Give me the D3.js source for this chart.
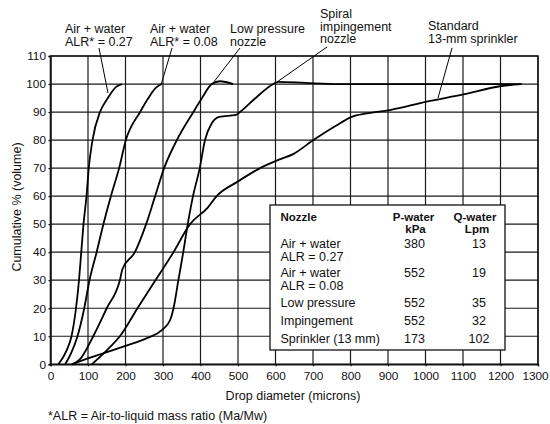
<!DOCTYPE html>
<html>
<head>
<meta charset="utf-8">
<script src="https://cdn.jsdelivr.net/npm/d3@7"></script>
<style>
  html, body { margin: 0; padding: 0; background: #fff; }
  svg { display: block; }
  text { font-family: "Liberation Sans", Arial, Helvetica, sans-serif; fill: #111; }
</style>
</head>
<body>
<svg id="chart" width="550" height="424"></svg>
<script>
// ---- data ----
const xTicks = [0,100,200,300,400,500,600,700,800,900,1000,1100,1200,1300];
const yTicks = [0,10,20,30,40,50,60,70,80,90,100,110];

const alr027Dia = [21,43,56,68,76,82,88,96,102,112,132,153,175,190];
const alr027Pct = [0,5,10,20,30,40,50,60,70,80,90,95,99,100];

const alr008Dia = [39,55,72,90,104,123,141,161,183,201,239,261,280,296];
const alr008Pct = [0,4,10,20,30,40,50,60,70,80,90,95,98.5,100];

const lowPDia = [60,80,114,150,185,192,225,255,279,303,337,381,404,430,452,487];
const lowPPct = [0,2,10,20,30,34,40,50,60,70,80,90,95,100,101,100];

const impDia = [56,87,194,260,297,319,328,341,354,366,380,398,412,430,450,495,505,541,594,607,680,770,1255];
const impPct = [0,1.5,6.3,9.5,12.2,15.8,20,30,40,50,60,70,80,86,88.3,89,90,94.3,100,100.8,100.4,100,100];

const sprDia = [110,150,185,232,280,328,372,420,443,497,559,609,647,701,760,803,843,905,1003,1101,1203,1257];
const sprPct = [0,5,10,20,30,40,50,56,60,65,70,73,75,80,85,88.3,89.5,90.7,93.7,96.3,99.3,100];

const seriesDia = [alr027Dia, alr008Dia, lowPDia, impDia, sprDia];
const seriesPct = [alr027Pct, alr008Pct, lowPPct, impPct, sprPct];

const calloutLines = [
  ["Air + water", "ALR* = 0.27"],
  ["Air + water", "ALR* = 0.08"],
  ["Low pressure", "nozzle"],
  ["Spiral", "impingement", "nozzle"],
  ["Standard", "13-mm sprinkler"]
];

const tableHeader = ["Nozzle", "P-water", "Q-water"];
const tableUnits = ["", "kPa", "Lpm"];
const tableNozzle = [["Air + water", "ALR = 0.27"], ["Air + water", "ALR = 0.08"], ["Low pressure"], ["Impingement"], ["Sprinkler (13 mm)"]];
const tableP = ["380", "552", "552", "552", "173"];
const tableQ = ["13", "19", "35", "32", "102"];

const xTitle = "Drop diameter (microns)";
const yTitle = "Cumulative % (volume)";
const footnote = "*ALR = Air-to-liquid mass ratio (Ma/Mw)";

// ---- drawing ----
const svg = d3.select("#chart");
const x = d3.scaleLinear().domain([0, 1300]).range([50.5, 538]);
const y = d3.scaleLinear().domain([0, 110]).range([364.3, 56]);

// gridlines
const grid = svg.append("g").attr("stroke", "#1a1a1a").attr("stroke-width", 1.2);
grid.selectAll("line.v").data(xTicks).join("line")
  .attr("x1", d => x(d)).attr("x2", d => x(d))
  .attr("y1", y(0)).attr("y2", y(110));
grid.selectAll("line.h").data(yTicks).join("line")
  .attr("x1", x(0)).attr("x2", x(1300))
  .attr("y1", d => y(d)).attr("y2", d => y(d));

// axes
const fs = 12.5;
const tfs = 11.8;
const xAxis = svg.append("g").attr("transform", `translate(0,${y(0)})`)
  .call(d3.axisBottom(x).tickValues(xTicks).tickFormat(d3.format("d")).tickSize(2).tickPadding(5.5));
const yAxis = svg.append("g").attr("transform", `translate(${x(0)},0)`)
  .call(d3.axisLeft(y).tickValues(yTicks).tickFormat(d3.format("d")).tickSize(2).tickPadding(2.5));
[xAxis, yAxis].forEach(a => {
  a.select(".domain").attr("stroke", "#111").attr("stroke-width", 1.4);
  a.selectAll(".tick line").attr("stroke", "#111").attr("stroke-width", 1.2);
  a.selectAll("text").attr("font-size", tfs).attr("font-family", null).style("fill", "#111");
});
xAxis.selectAll(".tick text").filter(d => d === 1300).attr("dx", -3);
svg.append("rect").attr("x", x(0)).attr("y", y(110))
  .attr("width", x(1300) - x(0)).attr("height", y(0) - y(110))
  .attr("fill", "none").attr("stroke", "#111").attr("stroke-width", 1.4);

// titles
svg.append("text").attr("x", 293).attr("y", 400).attr("text-anchor", "middle")
  .attr("font-size", fs).text(xTitle);
svg.append("text").attr("transform", "translate(21,207) rotate(-90)").attr("text-anchor", "middle")
  .attr("font-size", fs).text(yTitle);
svg.append("text").attr("x", 48).attr("y", 419.5).attr("font-size", fs).text(footnote);

// curves
const line = d3.line().x(d => x(d[0])).y(d => y(d[1])).curve(d3.curveMonotoneX);
svg.append("g").selectAll("path").data(seriesDia.map((ds, i) => ds.map((d, j) => [d, seriesPct[i][j]])))
  .join("path").attr("d", line).attr("fill", "none").attr("stroke", "#000").attr("stroke-width", 1.8)
  .attr("stroke-linejoin", "round");

// legend table
const tb = svg.append("g");
tb.append("rect").attr("x", 270).attr("y", 205).attr("width", 235).attr("height", 145)
  .attr("fill", "#fff").attr("stroke", "#111").attr("stroke-width", 1.3);
const colX = [280.5, 413.5, 475];
const colAnchor = ["start", "middle", "middle"];
tableHeader.forEach((h, i) => {
  tb.append("text").attr("x", colX[i]).attr("y", 221).attr("text-anchor", colAnchor[i])
    .attr("font-size", 11.5).attr("font-weight", "bold").text(h);
  if (tableUnits[i]) tb.append("text").attr("x", colX[i] + 2).attr("y", 233).attr("text-anchor", colAnchor[i])
    .attr("font-size", 11.5).attr("font-weight", "bold").text(tableUnits[i]);
});
const rowY = [248, 277, 307, 324.5, 342.5];
tableNozzle.forEach((lines, r) => {
  lines.forEach((t, k) => {
    tb.append("text").attr("x", colX[0]).attr("y", rowY[r] + k * 12.5).attr("font-size", fs).text(t);
  });
  tb.append("text").attr("x", colX[1] + 1).attr("y", rowY[r]).attr("text-anchor", "middle").attr("font-size", fs).text(tableP[r]);
  tb.append("text").attr("x", colX[2] + 4).attr("y", rowY[r]).attr("text-anchor", "middle").attr("font-size", fs).text(tableQ[r]);
});

// callouts
const calloutPos = [[65, 33], [150, 33], [230, 33], [320, 18], [428, 30]];
const leaderFrom = [[99, 48], [172, 48], [240, 48], [327, 47], [452, 48]];
const leaderTo = [[108, 93], [161, 85], [213, 83], [277, 82], [438, 98]];
calloutLines.forEach((lines, i) => {
  lines.forEach((t, k) => {
    svg.append("text").attr("x", calloutPos[i][0]).attr("y", calloutPos[i][1] + k * 12.5)
      .attr("font-size", fs).text(t);
  });
  svg.append("line").attr("x1", leaderFrom[i][0]).attr("y1", leaderFrom[i][1])
    .attr("x2", leaderTo[i][0]).attr("y2", leaderTo[i][1])
    .attr("stroke", "#000").attr("stroke-width", 1);
});
</script>
</body>
</html>
